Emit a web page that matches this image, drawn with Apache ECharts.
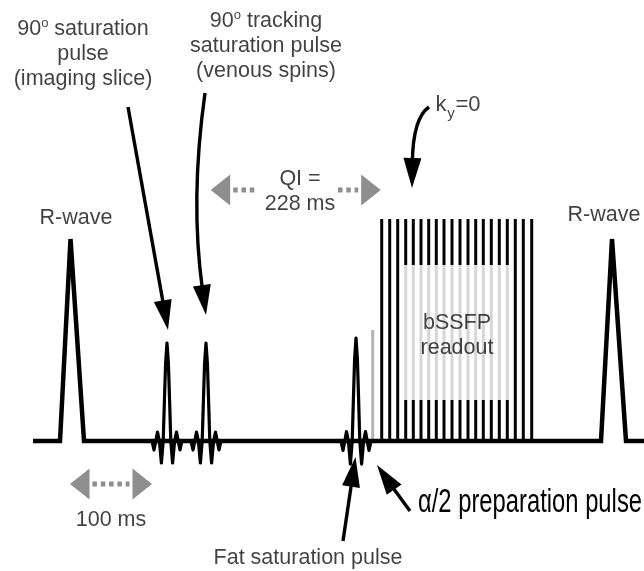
<!DOCTYPE html>
<html><head><meta charset="utf-8">
<script src="https://cdn.jsdelivr.net/npm/echarts@6/dist/echarts.min.js"></script>
<style>html,body{margin:0;padding:0;background:#fff}#c{width:644px;height:571px}</style>
</head><body><div id="c"></div>
<script>
// ---- diagram data (x: time position, y: vertical position, 0 at top) ----
const BASE_Y = 441;

// ECG trace: baseline with two R-waves
const ecgTrace = [[33,441],[60,441],[70.5,239],[84,441],[601,441],[612,239],[626,441],[644,441]];

// RF (sinc) pulses: centres and relative gains
const rfPulseX = [167, 206, 356];
const rfPulseGain = [1, 1, 1.05];
// sinc lobe template: [offset, height above baseline]
const sincShape = [[-15,0],[-13,-9],[-11.2,0],[-9.5,9],[-7.6,0],[-5.6,-22],[-3.8,0],[-2.6,40],[-1.4,78],[0,98],
                   [1.4,78],[2.6,40],[3.8,0],[5.6,-22],[7.6,0],[9.5,9],[11.2,0],[13,-9],[15,0]];

// alpha/2 preparation pulse [x, top]
const prepPulse = [372.7, 330];

// bSSFP readout echoes
const readoutX = [381.7, 389.7, 397.7, 405.7, 413.3, 421, 428.7, 436.3, 444, 452,
                  460, 468, 475.7, 483.3, 491.3, 499.3, 507.3, 515.3, 523.3, 531.7];
const readoutTop = 219, readoutGrayTop = 265, readoutGrayBottom = 400;
const readoutGrayFrom = 3, readoutGrayTo = 16;

// black annotation arrows: [tail, control, tip]
const blackArrows = [
  [[128,107],[148,218],[168,330]],
  [[205,93],[190,200],[206,315]],
  [[429,107],[413,118],[412,188]],
  [[343,541],[349,500],[355.5,457]],
  [[410,511],[393,488],[377,465]]
];

// grey dotted interval arrows: [xStart, xEnd, y, headAtStart, headAtEnd]
const grayArrows = [[70,152,484,1,1],[210.7,257,190,1,0],[338,380.7,190,0,1]];

// text annotations
const textLabels = [
  ['{t|90}{o|o}{t| saturation}\n{t|pulse}\n{t|(imaging slice)}', 83, 54],
  ['{t|90}{o|o}{t| tracking}\n{t|saturation pulse}\n{t|(venous spins)}', 266, 46],
  ['{t|R-wave}', 76, 218],
  ['{t|R-wave}', 604, 215],
  ['{t|QI =}\n{t|228 ms}', 300, 192],
  ['{t|bSSFP}\n{t|readout}', 457, 336],
  ['{t|100 ms}', 111, 520],
  ['{t|Fat saturation pulse}', 308, 558]
];
const kyLabel = [['k', 441, 105, 'big'], ['y', 451, 114, 'sub'], ['=0', 468, 105, 'big']];
const prepLabel = ['α/2 preparation pulse', 418, 503, 224];

// ---- build ----
const FONT = '"Liberation Sans", Arial, Helvetica, sans-serif';
const TXT = '#111';

const pulseSeries = rfPulseX.map((cx, i) => ({
  type: 'line', silent: true, showSymbol: false, z: 3,
  data: sincShape.map(p => [cx + p[0], BASE_Y - p[1] * rfPulseGain[i]]),
  lineStyle: { color: '#000', width: 3.2, join: 'round' }
}));

const segs = [];
readoutX.forEach((x, i) => {
  if (i >= readoutGrayFrom && i <= readoutGrayTo) {
    segs.push([x, readoutTop, readoutGrayTop, 0]);
    segs.push([x, readoutGrayTop, readoutGrayBottom, 1]);
    segs.push([x, readoutGrayBottom, BASE_Y, 0]);
  } else segs.push([x, readoutTop, BASE_Y, 0]);
});
segs.push([prepPulse[0], prepPulse[1], BASE_Y, 2]);
const segColors = ['#000', '#d6d6d6', '#b4b4b4'];

const chart = echarts.init(document.getElementById('c'));

// measure prep label for horizontal condensing
const mctx = document.createElement('canvas').getContext('2d');
mctx.font = '34px "Liberation Sans Narrow", "Liberation Sans", Arial';
const prepScale = prepLabel[3] / mctx.measureText(prepLabel[0]).width;

const richStyles = {
  t: { fontFamily: FONT, fontSize: 21.5, lineHeight: 25, color: TXT },
  o: { fontFamily: FONT, fontSize: 13, lineHeight: 25, color: TXT, verticalAlign: 'top', padding: [0, 0, 9, 0] }
};

chart.setOption({
  animation: false,
  backgroundColor: '#fff',
  grid: { left: 0, right: 0, top: 0, bottom: 0 },
  xAxis: { type: 'value', min: 0, max: 644, show: false },
  yAxis: { type: 'value', min: 0, max: 571, inverse: true, show: false },
  series: [
    { type: 'custom', silent: true, clip: false, z: 1, data: segs,
      renderItem: (params, api) => {
        const a = api.coord([api.value(0), api.value(1)]);
        const b = api.coord([api.value(0), api.value(2)]);
        return { type: 'line', shape: { x1: a[0], y1: a[1], x2: b[0], y2: b[1] },
          style: { stroke: segColors[api.value(3)], lineWidth: 3 } };
      } },
    { type: 'line', silent: true, showSymbol: false, z: 2, data: ecgTrace,
      lineStyle: { color: '#000', width: 4.5, join: 'miter', cap: 'butt' } },
    ...pulseSeries,
    { type: 'custom', silent: true, clip: false, z: 4,
      data: blackArrows.map(a => [a[2][0], a[2][1]]),
      renderItem: (params, api) => {
        const a = blackArrows[params.dataIndex];
        const p0 = api.coord(a[0]), c = api.coord(a[1]), p1 = api.coord(a[2]);
        let dx = p1[0] - c[0], dy = p1[1] - c[1];
        const L = Math.hypot(dx, dy); dx /= L; dy /= L;
        const hl = 30, hw = 9;
        const bx = p1[0] - dx * hl, by = p1[1] - dy * hl;
        return { type: 'group', children: [
          { type: 'bezierCurve', shape: { x1: p0[0], y1: p0[1], x2: bx + dx * 4, y2: by + dy * 4, cpx1: c[0], cpy1: c[1] },
            style: { stroke: '#000', lineWidth: 3.4, fill: 'none' } },
          { type: 'polygon', shape: { points: [[p1[0], p1[1]], [bx - dy * hw, by + dx * hw], [bx + dy * hw, by - dx * hw]] },
            style: { fill: '#000' } }
        ] };
      } },
    { type: 'custom', silent: true, clip: false, z: 4,
      data: grayArrows.map(g => [g[0], g[2]]),
      renderItem: (params, api) => {
        const g = grayArrows[params.dataIndex];
        const s = api.coord([g[0], g[2]]), e = api.coord([g[1], g[2]]);
        const hl = 19.5, hh = 15.5, col = '#8e8e8e';
        const ch = [];
        let x1 = s[0], x2 = e[0];
        if (g[3]) { ch.push({ type: 'polygon', shape: { points: [[s[0], s[1]], [s[0] + hl, s[1] - hh], [s[0] + hl, s[1] + hh]] }, style: { fill: col } }); x1 += hl + 3; }
        if (g[4]) { ch.push({ type: 'polygon', shape: { points: [[e[0], e[1]], [e[0] - hl, e[1] - hh], [e[0] - hl, e[1] + hh]] }, style: { fill: col } }); x2 -= hl + 3; }
        ch.push({ type: 'line', shape: { x1: x1, y1: s[1], x2: x2, y2: s[1] },
          style: { stroke: col, lineWidth: 5, lineDash: [4.5, 3.8] } });
        return { type: 'group', children: ch };
      } },
    { type: 'scatter', silent: true, symbolSize: 0, z: 5,
      data: textLabels.map(t => ({ value: [t[1], t[2]], name: t[0] })),
      label: { show: true, position: 'inside', formatter: p => p.name, color: TXT,
        textBorderWidth: 0, fontFamily: FONT, fontSize: 21.5, lineHeight: 25,
        align: 'center', verticalAlign: 'middle', rich: richStyles } },
    { type: 'scatter', silent: true, symbolSize: 0, z: 5,
      data: kyLabel.map(t => ({ value: [t[1], t[2]], name: t[0],
        label: { fontSize: t[3] === 'sub' ? 15 : 22 } })),
      label: { show: true, position: 'inside', formatter: p => p.name, color: TXT,
        textBorderWidth: 0, fontFamily: FONT, align: 'center', verticalAlign: 'middle' } },
    { type: 'custom', silent: true, clip: false, z: 5, data: [[prepLabel[1], prepLabel[2]]],
      renderItem: (params, api) => {
        const p = api.coord([api.value(0), api.value(1)]);
        return { type: 'text', x: p[0], y: p[1], scaleX: prepScale,
          style: { text: prepLabel[0], fill: '#000', fontSize: 34,
            fontFamily: '"Liberation Sans Narrow", "Liberation Sans", Arial', align: 'left', verticalAlign: 'middle' } };
      } }
  ]
});
</script>
</body></html>
